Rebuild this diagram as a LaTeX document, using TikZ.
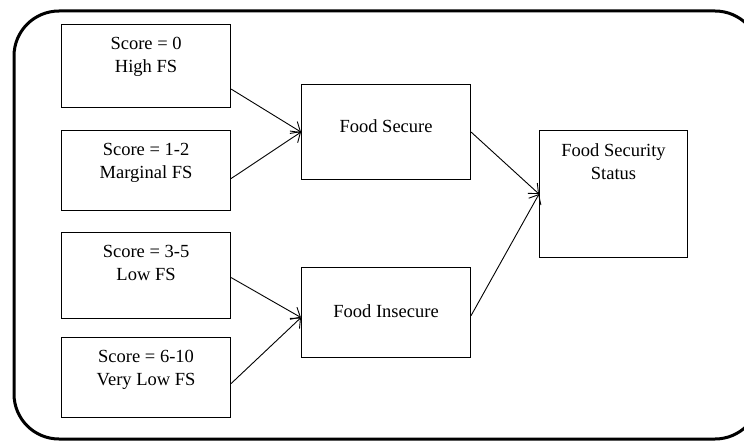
\documentclass[tikz,border=0pt]{standalone}
\usepackage{fontspec}
\setmainfont{Liberation Serif}
\usetikzlibrary{arrows.meta}
\begin{document}
\begin{tikzpicture}[x=1pt,y=-1pt,
  box/.style={draw,line width=1.1pt,inner sep=0pt,anchor=north west,minimum width=169pt},
  every label/.style={anchor=north,align=center,inner sep=0pt,font=\fontsize{18.5}{23}\selectfont},
  arr/.style={line width=0.9pt,-{Straight Barb[length=8pt,width=14pt,line width=0.9pt]}}]
\useasboundingbox (0,0) rectangle (744,441);
\draw[line width=3pt,rounded corners=45pt] (14,11) rectangle (760,439);
\node[box,minimum height=83pt,label={[yshift=-13pt]north:{Score = 0\\High FS}}] (high) at (61,24) {};
\node[box,minimum height=80pt,label={[yshift=-13pt]north:{Score = 1-2\\Marginal FS}}] (marg) at (61,130) {};
\node[box,minimum height=86pt,label={[yshift=-13pt]north:{Score = 3-5\\Low FS}}] (low) at (61,232) {};
\node[box,minimum height=80pt,label={[yshift=-13pt]north:{Score = 6-10\\Very Low FS}}] (vlow) at (61,337) {};
\node[box,minimum height=95pt,label={[yshift=-35pt]north:Food Secure}] (sec) at (301,84) {};
\node[box,minimum height=90pt,label={[yshift=-37pt]north:Food Insecure}] (insec) at (301,267) {};
\node[box,minimum width=148pt,minimum height=127pt,label={[yshift=-13pt]north:{Food Security\\Status}}] (status) at (539,130) {};
\draw[arr] ([yshift=-23pt]high.east) -- (sec.west);
\draw[arr] ([yshift=-8pt]marg.east) -- (sec.west);
\draw[arr] ([yshift=-2pt]low.east) -- ([yshift=-5pt]insec.west);
\draw[arr] ([yshift=-6pt]vlow.east) -- ([yshift=-5pt]insec.west);
\draw[arr] (sec.east) -- (status.west);
\draw[arr] ([yshift=-3pt]insec.east) -- (status.west);
\end{tikzpicture}
\end{document}
